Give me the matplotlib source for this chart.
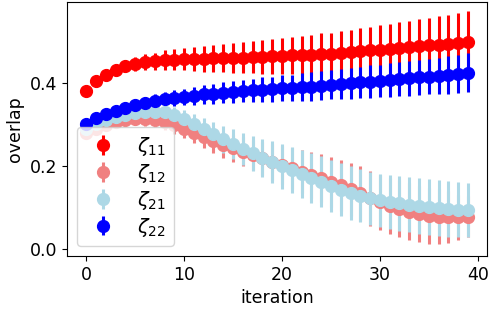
import matplotlib
matplotlib.use("Agg")
import matplotlib.pyplot as plt
import numpy as np

iterations = list(range(40))

z11 = [0.38, 0.405, 0.42, 0.43, 0.44, 0.445, 0.45, 0.452, 0.455, 0.456,
       0.457, 0.458, 0.458, 0.459, 0.46, 0.46, 0.461, 0.462, 0.463, 0.464,
       0.465, 0.466, 0.467, 0.468, 0.469, 0.47, 0.472, 0.474, 0.476, 0.478,
       0.48, 0.482, 0.484, 0.486, 0.488, 0.49, 0.492, 0.494, 0.496, 0.498]
z11_err = [0.005, 0.008, 0.01, 0.012, 0.015, 0.017, 0.019, 0.021, 0.023, 0.025,
           0.027, 0.029, 0.031, 0.033, 0.034, 0.036, 0.038, 0.039, 0.041, 0.042,
           0.044, 0.045, 0.047, 0.048, 0.05, 0.051, 0.053, 0.054, 0.056, 0.057,
           0.059, 0.06, 0.062, 0.063, 0.065, 0.067, 0.068, 0.07, 0.072, 0.074]

z12 = [0.28, 0.29, 0.298, 0.305, 0.31, 0.312, 0.312, 0.31, 0.305, 0.298,
       0.29, 0.28, 0.27, 0.26, 0.25, 0.242, 0.234, 0.226, 0.218, 0.21,
       0.202, 0.194, 0.186, 0.178, 0.17, 0.162, 0.153, 0.144, 0.134, 0.122,
       0.112, 0.104, 0.097, 0.09, 0.084, 0.08, 0.078, 0.077, 0.076, 0.078]
z12_err = [0.005, 0.007, 0.008, 0.01, 0.012, 0.013, 0.015, 0.017, 0.019, 0.021,
           0.023, 0.025, 0.027, 0.029, 0.031, 0.033, 0.035, 0.037, 0.04, 0.043,
           0.046, 0.049, 0.052, 0.055, 0.058, 0.06, 0.062, 0.064, 0.066, 0.066,
           0.066, 0.067, 0.068, 0.068, 0.068, 0.068, 0.066, 0.062, 0.055, 0.05]

z21 = [0.29, 0.30, 0.31, 0.317, 0.323, 0.327, 0.33, 0.331, 0.329, 0.322,
       0.312, 0.30, 0.288, 0.276, 0.264, 0.252, 0.241, 0.23, 0.219, 0.209,
       0.199, 0.19, 0.18, 0.171, 0.162, 0.152, 0.143, 0.135, 0.128, 0.122,
       0.117, 0.113, 0.11, 0.107, 0.104, 0.101, 0.099, 0.097, 0.095, 0.094]
z21_err = [0.005, 0.007, 0.008, 0.01, 0.012, 0.013, 0.015, 0.017, 0.019, 0.021,
           0.023, 0.025, 0.027, 0.03, 0.033, 0.036, 0.039, 0.042, 0.046, 0.05,
           0.054, 0.056, 0.058, 0.06, 0.062, 0.063, 0.064, 0.064, 0.064, 0.064,
           0.064, 0.065, 0.066, 0.067, 0.068, 0.068, 0.068, 0.067, 0.066, 0.065]

z22 = [0.30, 0.315, 0.325, 0.333, 0.34, 0.346, 0.351, 0.356, 0.36, 0.363,
       0.366, 0.369, 0.372, 0.374, 0.376, 0.378, 0.38, 0.382, 0.384, 0.385,
       0.387, 0.388, 0.39, 0.391, 0.393, 0.395, 0.397, 0.399, 0.401, 0.403,
       0.405, 0.407, 0.409, 0.411, 0.413, 0.415, 0.417, 0.419, 0.421, 0.424]
z22_err = [0.004, 0.006, 0.008, 0.01, 0.011, 0.013, 0.014, 0.016, 0.017, 0.019,
           0.02, 0.022, 0.023, 0.024, 0.025, 0.026, 0.027, 0.028, 0.029, 0.03,
           0.031, 0.032, 0.033, 0.034, 0.035, 0.035, 0.036, 0.037, 0.038, 0.039,
           0.039, 0.04, 0.041, 0.042, 0.043, 0.043, 0.044, 0.045, 0.046, 0.047]

labels = [r'$\zeta_{11}$', r'$\zeta_{12}$', r'$\zeta_{21}$', r'$\zeta_{22}$']
colors = ['red', 'lightcoral', 'lightblue', 'blue']

plt.rcParams['font.size'] = 12.5
fig = plt.figure(figsize=(4.9, 3.1), dpi=100)
ax = fig.add_axes([0.137, 0.174, 0.857, 0.82])

series = [(z11, z11_err), (z12, z12_err), (z21, z21_err), (z22, z22_err)]
for (vals, errs), lab, col in zip(series, labels, colors):
    ax.errorbar(iterations, vals, yerr=errs, fmt='o', color=col,
                markersize=8.5, elinewidth=2.2, label=lab)

ax.set_xlabel('iteration')
ax.set_ylabel('overlap')
ax.set_xticks([0, 10, 20, 30, 40])
ax.set_yticks([0.0, 0.2, 0.4])
ax.set_ylim(-0.017, 0.595)
ax.legend(loc='lower left', fontsize=14, labelspacing=0.2, handlelength=1.9)

fig.savefig('out.png', dpi=100)
